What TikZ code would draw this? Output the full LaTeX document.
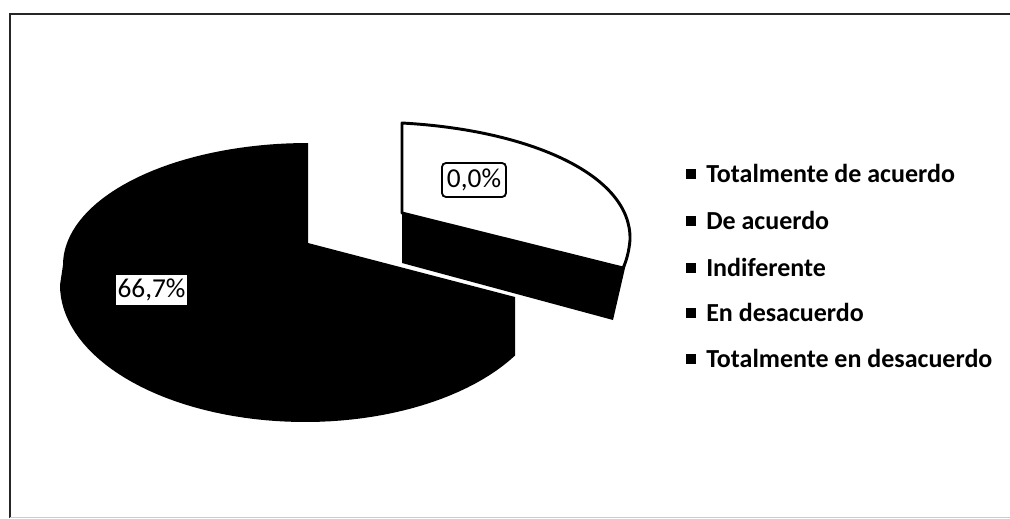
\documentclass[tikz,border=0pt]{standalone}
\usepackage{fontspec}
\setmainfont{Carlito}
\begin{document}
\begin{tikzpicture}[x=0.75pt,y=-0.75pt,
  legtext/.style={anchor=base west, inner sep=0pt, font=\fontsize{19.5}{22}\selectfont\bfseries},
  legbox/.style={fill=black, minimum size=7.5pt, inner sep=0pt},
  pctlabel/.style={fill=white, inner sep=1pt, font=\fontsize{20.5}{23}\selectfont}]
\useasboundingbox (0,0) rectangle (1010,518);
% frame
\draw[line width=1.3pt, black!85] (1010,14) -- (10,14) -- (10,518);
\draw[line width=0.6pt, black!20] (10,517) -- (1010,517);
% main slice (66,7%)
\fill[black] (308,143)
  -- plot[domain=90:180, samples=40] ({308+245*cos(\x)},{265-122*sin(\x)})
  -- plot[domain=180:329, samples=60] ({305+245*cos(\x)},{285-137*sin(\x)})
  -- (515,297) -- (308,243) -- cycle;
% exploded slice: side
\fill[black] (402,213) -- (631,240) -- (625,268) -- (613,320) -- (402,263) -- cycle;
% exploded slice: top face
\filldraw[fill=white, draw=black, line width=2.2pt, line join=round]
  (402,213) -- (402,123) .. controls (530,130) and (632,175) .. (630,240)
  .. controls (629,252) and (626,262) .. (623,268) -- cycle;
% data labels
\node[pctlabel, draw=black, line width=1.4pt, rounded corners=3pt,
      minimum width=48pt, minimum height=25.5pt] (l0) at (474,180) {0,0\%};
\node[pctlabel, minimum width=53pt, minimum height=22.5pt] (l1) at (151.5,290) {66,7\%};
% legend
\node[legbox] (k1) at (691,174) {};
\node[legtext] (t1) at (706,182) {Totalmente de acuerdo};
\node[legbox] (k2) at (691,221) {};
\node[legtext] (t2) at (706,229) {De acuerdo};
\node[legbox] (k3) at (691,268) {};
\node[legtext] (t3) at (706,276) {Indiferente};
\node[legbox] (k4) at (691,313) {};
\node[legtext] (t4) at (706,321) {En desacuerdo};
\node[legbox] (k5) at (691,359) {};
\node[legtext] (t5) at (706,367) {Totalmente en desacuerdo};
\end{tikzpicture}
\end{document}
